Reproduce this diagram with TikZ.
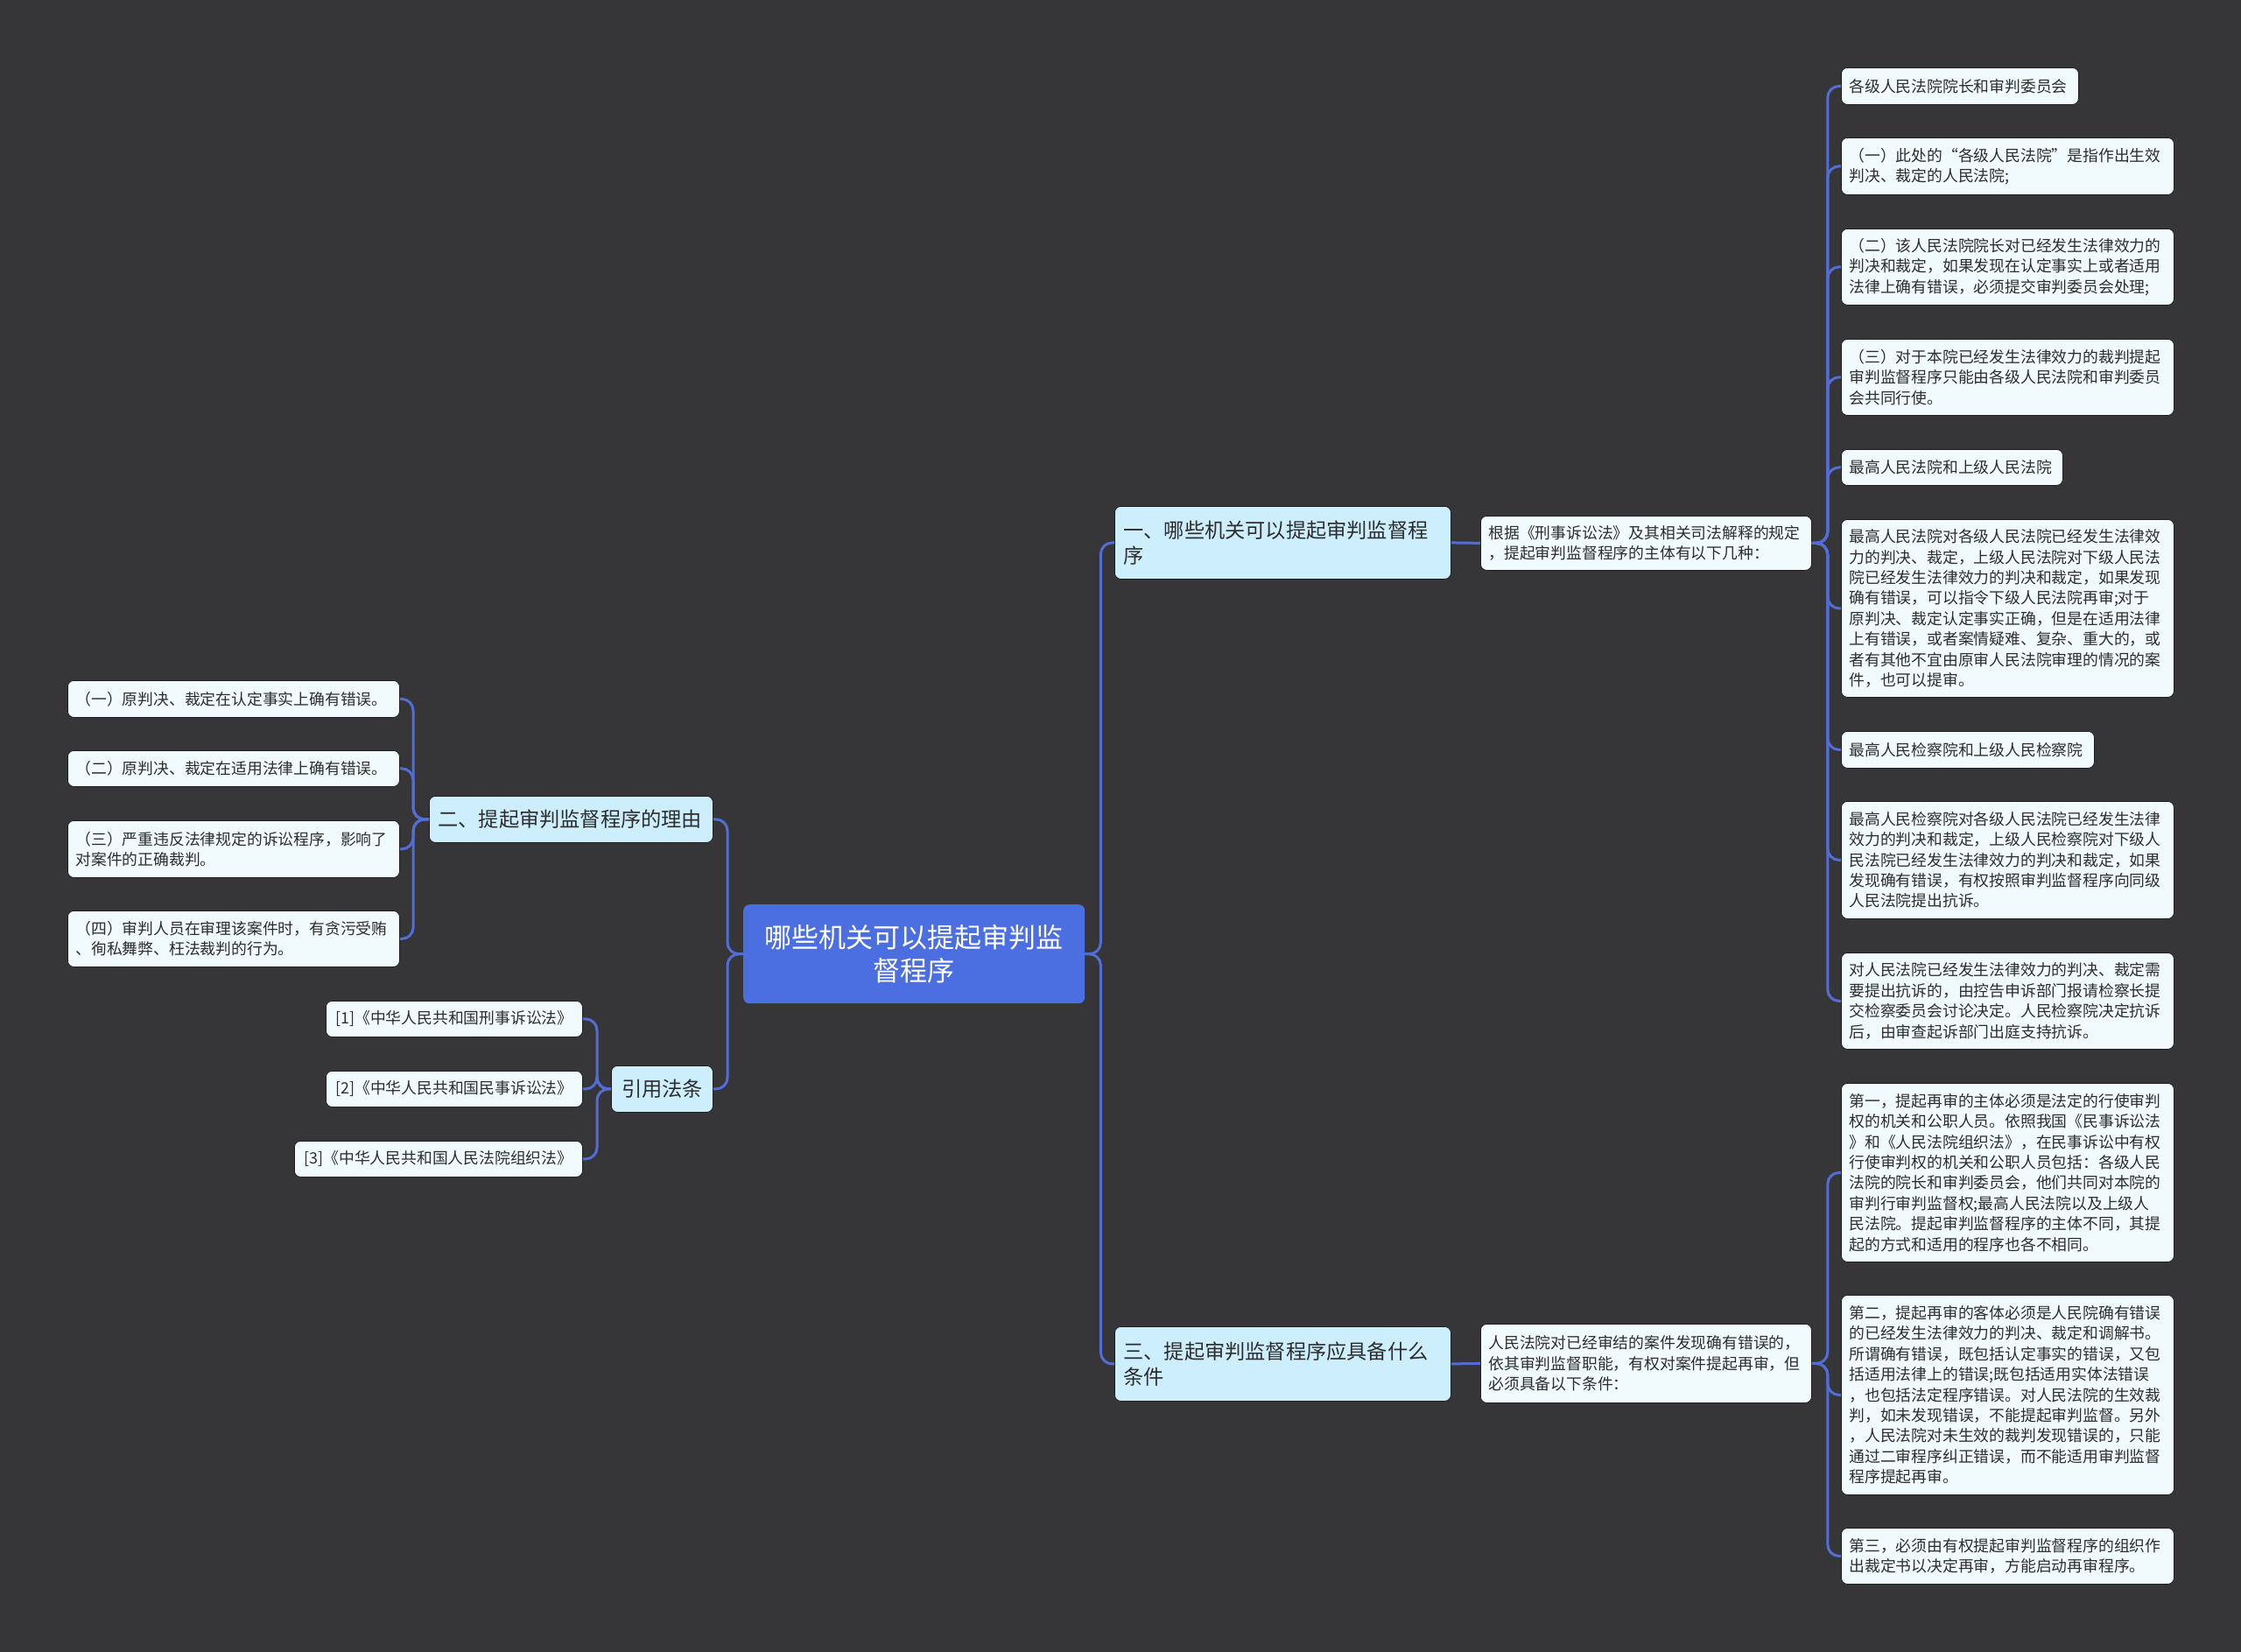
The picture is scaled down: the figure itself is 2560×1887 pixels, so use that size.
\documentclass[tikz,border=0pt]{standalone}
\usepackage{fontspec}
\setmainfont{Noto Sans CJK SC}
\definecolor{bg}{RGB}{54,53,56}
\definecolor{conn}{RGB}{82,110,214}
\definecolor{rootfill}{RGB}{75,110,224}
\definecolor{midfill}{RGB}{205,238,252}
\definecolor{leaffill}{RGB}{241,251,253}
\definecolor{txt}{RGB}{45,45,45}
\definecolor{edge}{RGB}{30,30,32}
\tikzset{
  base/.style={anchor=north west, rounded corners=7pt, inner ysep=0pt, text=txt},
  leaf/.style={base, draw=edge, line width=0.8pt, fill=leaffill, align=left, inner xsep=9pt,
    font=\fontsize{17.8}{23.4}\selectfont},
  refbox/.style={leaf, align=center, inner xsep=5pt},
  mid/.style={base, draw=edge, line width=0.8pt, fill=midfill, align=left, inner xsep=10pt,
    font=\fontsize{23.2}{29}\selectfont},
  rootbox/.style={base, fill=rootfill, text=white, align=center, inner xsep=10pt,
    font=\fontsize{31}{38}\selectfont},
  link/.style={draw=conn, line width=3pt, rounded corners=13pt},
}
\begin{document}
\begin{tikzpicture}[x=1pt,y=-1pt]
\fill[bg] (0,0) rectangle (2560,1887);
\useasboundingbox (0,0) rectangle (2560,1887);

% root
\node[rootbox, text width=370pt, minimum height=113pt] (C) at (849,1033) {哪些机关可以提起审判监\\督程序};

% level 1
\node[mid, text width=364pt, minimum height=83pt] (N1) at (1273,578) {一、哪些机关可以提起审判监督程\\序};
\node[mid, text width=364pt, minimum height=85pt] (N3) at (1273,1515) {三、提起审判监督程序应具备什么\\条件};
\node[mid, text width=304pt, minimum height=53pt] (N2) at (490,909) {二、提起审判监督程序的理由};
\node[mid, align=center, text width=96pt, minimum height=53pt] (N4) at (698,1217) {引用法条};

% level 2
\node[leaf, text width=360pt, minimum height=62pt] (N1a) at (1691,589) {根据《刑事诉讼法》及其相关司法解释的规定\\，提起审判监督程序的主体有以下几种：};
\node[leaf, text width=360pt, minimum height=90pt] (N3a) at (1691,1512) {人民法院对已经审结的案件发现确有错误的，\\依其审判监督职能，有权对案件提起再审，但\\必须具备以下条件：};

% right leaves of N1a
\node[leaf, text width=253pt, minimum height=42pt] (A1) at (2103,77) {各级人民法院院长和审判委员会};
\node[leaf, text width=362pt, minimum height=65pt] (A2) at (2103,157) {（一）此处的“各级人民法院”是指作出生效\\判决、裁定的人民法院;};
\node[leaf, text width=362pt, minimum height=87pt] (A3) at (2103,261) {（二）该人民法院院长对已经发生法律效力的\\判决和裁定，如果发现在认定事实上或者适用\\法律上确有错误，必须提交审判委员会处理;};
\node[leaf, text width=362pt, minimum height=87pt] (A4) at (2103,387) {（三）对于本院已经发生法律效力的裁判提起\\审判监督程序只能由各级人民法院和审判委员\\会共同行使。};
\node[leaf, text width=235pt, minimum height=41pt] (A5) at (2103,513) {最高人民法院和上级人民法院};
\node[leaf, text width=362pt, minimum height=203pt] (A6) at (2103,593) {最高人民法院对各级人民法院已经发生法律效\\力的判决、裁定，上级人民法院对下级人民法\\院已经发生法律效力的判决和裁定，如果发现\\确有错误，可以指令下级人民法院再审;对于\\原判决、裁定认定事实正确，但是在适用法律\\上有错误，或者案情疑难、复杂、重大的，或\\者有其他不宜由原审人民法院审理的情况的案\\件，也可以提审。};
\node[leaf, text width=271pt, minimum height=42pt] (A7) at (2103,835) {最高人民检察院和上级人民检察院};
\node[leaf, text width=362pt, minimum height=134pt] (A8) at (2103,915) {最高人民检察院对各级人民法院已经发生法律\\效力的判决和裁定，上级人民检察院对下级人\\民法院已经发生法律效力的判决和裁定，如果\\发现确有错误，有权按照审判监督程序向同级\\人民法院提出抗诉。};
\node[leaf, text width=362pt, minimum height=110pt] (A9) at (2103,1088) {对人民法院已经发生法律效力的判决、裁定需\\要提出抗诉的，由控告申诉部门报请检察长提\\交检察委员会讨论决定。人民检察院决定抗诉\\后，由审查起诉部门出庭支持抗诉。};

% right leaves of N3a
\node[leaf, text width=362pt, minimum height=204pt] (B1) at (2103,1237) {第一，提起再审的主体必须是法定的行使审判\\权的机关和公职人员。依照我国《民事诉讼法\\》和《人民法院组织法》，在民事诉讼中有权\\行使审判权的机关和公职人员包括：各级人民\\法院的院长和审判委员会，他们共同对本院的\\审判行审判监督权;最高人民法院以及上级人\\民法院。提起审判监督程序的主体不同，其提\\起的方式和适用的程序也各不相同。};
\node[leaf, text width=362pt, minimum height=228pt] (B2) at (2103,1479) {第二，提起再审的客体必须是人民院确有错误\\的已经发生法律效力的判决、裁定和调解书。\\所谓确有错误，既包括认定事实的错误，又包\\括适用法律上的错误;既包括适用实体法错误\\，也包括法定程序错误。对人民法院的生效裁\\判，如未发现错误，不能提起审判监督。另外\\，人民法院对未生效的裁判发现错误的，只能\\通过二审程序纠正错误，而不能适用审判监督\\程序提起再审。};
\node[leaf, text width=362pt, minimum height=64pt] (B3) at (2103,1745) {第三，必须由有权提起审判监督程序的组织作\\出裁定书以决定再审，方能启动再审程序。};

% left leaves
\node[leaf, text width=361pt, minimum height=42pt] (L1) at (77,777) {（一）原判决、裁定在认定事实上确有错误。};
\node[leaf, text width=361pt, minimum height=41pt] (L2) at (77,857) {（二）原判决、裁定在适用法律上确有错误。};
\node[leaf, text width=361pt, minimum height=65pt] (L3) at (77,937) {（三）严重违反法律规定的诉讼程序，影响了\\对案件的正确裁判。};
\node[leaf, text width=361pt, minimum height=64pt] (L4) at (77,1040) {（四）审判人员在审理该案件时，有贪污受贿\\、徇私舞弊、枉法裁判的行为。};

% references
\node[refbox, text width=283pt, minimum height=41pt] (R1) at (372,1143) {[1]《中华人民共和国刑事诉讼法》};
\node[refbox, text width=283pt, minimum height=41pt] (R2) at (372,1223) {[2]《中华人民共和国民事诉讼法》};
\node[refbox, text width=319pt, minimum height=41pt] (R3) at (336,1303) {[3]《中华人民共和国人民法院组织法》};

% connectors
\begin{scope}[on background layer/.style={}]
\draw[link] (C.east) -- ++(18,0) |- (N1.west);
\draw[link] (C.east) -- ++(18,0) |- (N3.west);
\draw[link] (C.west) -- ++(-18,0) |- (N2.east);
\draw[link] (C.west) -- ++(-18,0) |- (N4.east);
\draw[link] (N1.east) -- (N1a.west);
\draw[link] (N3.east) -- (N3a.west);
\foreach \t in {A1,A2,A3,A4,A5,A6,A7,A8,A9}
  \draw[link] (N1a.east) -- ++(18,0) |- (\t.west);
\foreach \t in {B1,B2,B3}
  \draw[link] (N3a.east) -- ++(18,0) |- (\t.west);
\foreach \t in {L1,L2,L3,L4}
  \draw[link] (N2.west) -- ++(-18,0) |- (\t.east);
\foreach \t in {R1,R2,R3}
  \draw[link] (N4.west) -- ++(-16,0) |- (\t.east);
\end{scope}
\end{tikzpicture}
\end{document}
